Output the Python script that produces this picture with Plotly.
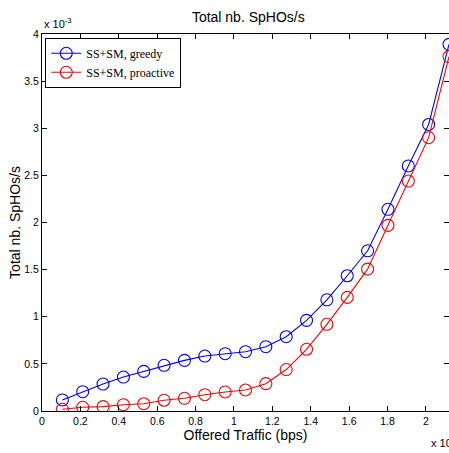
import plotly.graph_objects as go

# Offered traffic (x 10^5 bps)
traffic = [0.106, 0.212, 0.318, 0.424, 0.53, 0.636, 0.742, 0.848, 0.954, 1.06,
           1.166, 1.272, 1.378, 1.484, 1.59, 1.696, 1.802, 1.908, 2.014, 2.12]
# Total nb. SpHOs/s (x 10^-3)
greedy = [0.117, 0.205, 0.286, 0.36, 0.42, 0.485, 0.537, 0.583, 0.608, 0.629,
          0.682, 0.788, 0.962, 1.18, 1.435, 1.70, 2.14, 2.60, 3.04, 3.89]
proactive = [0.018, 0.039, 0.046, 0.067, 0.077, 0.114, 0.135, 0.173, 0.202, 0.223,
             0.29, 0.44, 0.655, 0.92, 1.206, 1.505, 1.97, 2.44, 2.90, 3.76]

x_ticks = [0, 0.2, 0.4, 0.6, 0.8, 1.0, 1.2, 1.4, 1.6, 1.8, 2.0]
x_labels = ["0", "0.2", "0.4", "0.6", "0.8", "1", "1.2", "1.4", "1.6", "1.8", "2"]
y_ticks = [0, 0.5, 1, 1.5, 2, 2.5, 3, 3.5, 4]
y_labels = ["0", "0.5", "1", "1.5", "2", "2.5", "3", "3.5", "4"]

fig = go.Figure()
fig.add_trace(go.Scatter(
    x=traffic, y=greedy, mode="lines+markers", name="SS+SM, greedy",
    line=dict(color="#0000ff", width=1.1),
    marker=dict(symbol="circle-open", size=12, color="#0000ff", line=dict(width=1.1)),
))
fig.add_trace(go.Scatter(
    x=traffic, y=proactive, mode="lines+markers", name="SS+SM, proactive",
    line=dict(color="#ff0000", width=1.1),
    marker=dict(symbol="circle-open", size=12, color="#ff0000", line=dict(width=1.1)),
))

sans = "Liberation Sans, Arial, sans-serif"
fig.update_layout(
    width=449, height=453,
    margin=dict(l=42, r=0, t=34, b=42),
    paper_bgcolor="white", plot_bgcolor="white",
    font=dict(family=sans, size=10.5, color="#000"),
    title=dict(text="Total nb. SpHOs/s", x=0.553, xanchor="center", y=0.962, yanchor="middle",
               font=dict(family=sans, size=14, color="#000")),
    showlegend=True,
    legend=dict(x=0.008, y=0.99, xanchor="left", yanchor="top",
                bgcolor="white", bordercolor="black", borderwidth=1,
                font=dict(family="Liberation Serif, Times New Roman, serif", size=12, color="#000"),
                itemwidth=30, tracegroupgap=2),
    xaxis=dict(range=[0, 2.12], tickvals=x_ticks, ticktext=x_labels,
               showgrid=False, zeroline=False, showline=True, linecolor="black", linewidth=1.2,
               mirror="ticks", ticks="inside", ticklen=5, tickcolor="black",
               title=dict(text="Offered Traffic (bps)", standoff=3,
                          font=dict(family=sans, size=14))),
    yaxis=dict(range=[0, 4], tickvals=y_ticks, ticktext=y_labels,
               showgrid=False, zeroline=False, showline=True, linecolor="black", linewidth=1.2,
               mirror="ticks", ticks="inside", ticklen=5, tickcolor="black",
               title=dict(text="Total nb. SpHOs/s", standoff=0,
                          font=dict(family=sans, size=14))),
)
fig.add_annotation(text="x 10<sup>-3</sup>", xref="paper", yref="paper", x=0.0, y=1.0,
                   xanchor="left", yanchor="bottom", showarrow=False, yshift=2,
                   font=dict(family=sans, size=11))
fig.add_annotation(text="x 10<sup>5</sup>", xref="paper", yref="paper", x=0.95, y=0.0,
                   xanchor="left", yanchor="top", showarrow=False, yshift=-22,
                   font=dict(family=sans, size=11))

fig.write_html("out.html", config={"displayModeBar": False},
               post_script="document.body.style.margin='0';document.body.style.overflow='hidden';")
